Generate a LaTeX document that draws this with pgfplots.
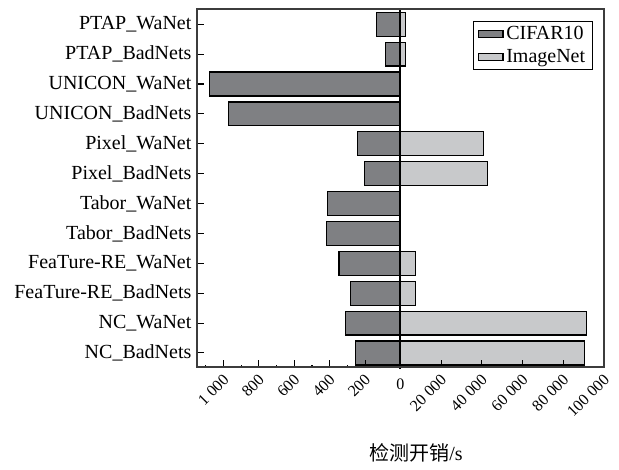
\documentclass[border=0pt]{standalone}
\usepackage{pgfplots}
\pgfplotsset{compat=1.18}
\usepackage{pgfplotstable}
\usepackage{fontspec}
\setmainfont{Liberation Serif}
\newfontfamily\cjk{Noto Sans CJK SC}
\definecolor{cifar}{HTML}{7F8083}
\definecolor{imnet}{HTML}{C8C9CB}
\definecolor{framecol}{HTML}{3C3C3C}
\newcommand{\ts}{\hspace{0.25em}}

% idx: 0 = top row (PTAP_WaNet) ... 11 = bottom row (NC_BadNets)
% cifar: detection cost on CIFAR10 (s), imagenet: detection cost on ImageNet (s)
\pgfplotstableread{
idx cifar imagenet
0   136   2500
1   87    2500
2   1078  0
3   970   0
4   243   40800
5   203   42650
6   411   0
7   418   0
8   347   7400
9   282   7400
10  309   91300
11  254   90450
}\datatable

\begin{document}
\begin{tikzpicture}
\useasboundingbox (-147.75pt,-76.7pt) rectangle (316.5pt,275.25pt);
\begin{axis}[
  at={(0pt,0pt)}, anchor=south west,
  scale only axis, width=305.25pt, height=268.5pt,
  xmin=-100, xmax=100, ymin=-0.51, ymax=11.47, y dir=reverse,
  axis on top, clip=false,
  axis line style={draw=framecol, line width=0.9pt},
  tick style={draw=black, line width=0.8pt},
  major tick length=5.25pt, minor tick length=1.2pt,
  tick align=inside, tick pos=left,
  xtick={-86.957,-69.565,-52.174,-34.783,-17.391,20,40,60,80,100},
  xticklabels={1\ts000,800,600,400,200,20\ts000,40\ts000,60\ts000,80\ts000,100\ts000},
  minor xtick={-95.652,-78.261,-60.870,-43.478,-26.087,-8.696,10,30,50,70,90},
  ytick={0,1,2,3,4,5,6,7,8,9,10,11},
  yticklabels={PTAP\_WaNet,PTAP\_BadNets,UNICON\_WaNet,UNICON\_BadNets,Pixel\_WaNet,Pixel\_BadNets,Tabor\_WaNet,Tabor\_BadNets,FeaTure-RE\_WaNet,FeaTure-RE\_BadNets,NC\_WaNet,NC\_BadNets},
  xticklabel style={font=\fontsize{12}{14}\selectfont, inner sep=0pt, anchor=north east, xshift=-1pt, yshift=-4.5pt, rotate=45},
  yticklabel style={inner sep=0pt, xshift=-4pt, font=\fontsize{15}{18}\selectfont},
  xlabel={{\cjk 检测开销}/s},
  xlabel style={at={(axis description cs:0.538,-0.241)}, anchor=center, font=\fontsize{15}{18}\selectfont},
  legend style={at={(axis description cs:0.973,0.967)}, anchor=north east, draw=black, line width=0.75pt,
    font=\fontsize{15}{18}\selectfont, inner xsep=3.5pt, inner ysep=2pt, row sep=1.5pt, cells={anchor=west}},
  legend image code/.code={\draw[#1, line width=0.9pt] (0pt,-2.6pt) rectangle (18.5pt,2.6pt);},
]
\addplot[xbar, bar shift=0pt, bar width=0.8, fill=cifar, draw=black, line width=0.9pt]
  table[x expr=-\thisrow{cifar}/11.5, y=idx]{\datatable};
\addlegendentry{CIFAR10}
\addplot[xbar, bar shift=0pt, bar width=0.8, fill=imnet, draw=black, line width=0.9pt]
  table[x expr=\thisrow{imagenet}/1000, y=idx]{\datatable};
\addlegendentry{ImageNet}
\addplot[black, line width=1.5pt, mark=none, forget plot] coordinates {(0,-0.51) (0,11.55)};
\node[anchor=north, inner sep=0pt, font=\fontsize{12}{14}\selectfont] at (axis description cs:0.5,0) [yshift=-8.5pt] {0};
\end{axis}
\end{tikzpicture}
\end{document}
